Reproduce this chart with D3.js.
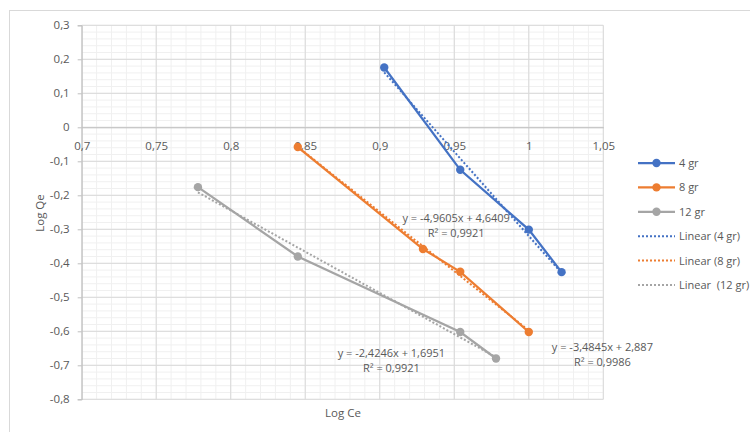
<!DOCTYPE html>
<html><head><meta charset="utf-8">
<script src="https://cdn.jsdelivr.net/npm/d3@7"></script>
<style>body{margin:0;background:#fff}svg{display:block}text{font-family:"Open Sans","Liberation Sans",sans-serif;white-space:pre}</style>
</head><body><svg id="c" width="750" height="432"></svg>
<script>
const seriesNames = ["4 gr", "8 gr", "12 gr"];
const trendNames = ["Linear (4 gr)", "Linear (8 gr)", "Linear  (12 gr)"];
const colors = ["#4472C4", "#ED7D31", "#A5A5A5"];
const x4 = [0.903, 0.954, 1.0, 1.022];
const y4 = [0.176, -0.125, -0.301, -0.426];
const x8 = [0.845, 0.929, 0.954, 1.0];
const y8 = [-0.058, -0.358, -0.425, -0.602];
const x12 = [0.778, 0.845, 0.954, 0.978];
const y12 = [-0.176, -0.38, -0.602, -0.68];
const slopes = [-4.9605, -3.4845, -2.4246];
const intercepts = [4.6409, 2.887, 1.6951];
const eqLabels = ["y = -4,9605x + 4,6409", "y = -3,4845x + 2,887", "y = -2,4246x + 1,6951"];
const r2Labels = ["R² = 0,9921", "R² = 0,9986", "R² = 0,9921"];
const eqPos = [[0.9513, -0.2794], [1.0494, -0.659], [0.9078, -0.6765]];
const xTicks = [0.7, 0.75, 0.8, 0.85, 0.9, 0.95, 1, 1.05];
const yTicks = [0.3, 0.2, 0.1, 0, -0.1, -0.2, -0.3, -0.4, -0.5, -0.6, -0.7, -0.8];

const xs = [x4, x8, x12], ys = [y4, y8, y12];
const svg = d3.select("#c");
const x = d3.scaleLinear().domain([0.7, 1.05]).range([81.7, 603.3]);
const y = d3.scaleLinear().domain([-0.8, 0.3]).range([399.3, 25.3]);
const fmt = v => String(+v.toFixed(2)).replace(".", ",");

svg.append("rect").attr("x", 9.5).attr("y", 10.5).attr("width", 760).attr("height", 440)
  .attr("fill", "none").attr("stroke", "#d9d9d9");

const g = svg.append("g");
g.selectAll(".mx").data(d3.range(0.7, 1.0501, 0.01)).join("line")
  .attr("x1", d => x(d)).attr("x2", d => x(d)).attr("y1", y(0.3)).attr("y2", y(-0.8))
  .attr("stroke", "#f0f0f0").attr("stroke-width", 1);
g.selectAll(".my").data(d3.range(-0.8, 0.3001, 0.02)).join("line")
  .attr("y1", d => y(d)).attr("y2", d => y(d)).attr("x1", x(0.7)).attr("x2", x(1.05))
  .attr("stroke", "#f0f0f0").attr("stroke-width", 1);
g.selectAll(".Mx").data(xTicks).join("line")
  .attr("x1", d => x(d)).attr("x2", d => x(d)).attr("y1", y(0.3)).attr("y2", y(-0.8))
  .attr("stroke", "#d9d9d9");
g.selectAll(".My").data(yTicks).join("line")
  .attr("y1", d => y(d)).attr("y2", d => y(d)).attr("x1", x(0.7)).attr("x2", x(1.05))
  .attr("stroke", "#d9d9d9");

const yAxis = d3.axisLeft(y).tickValues(yTicks).tickFormat(fmt).tickSize(4).tickPadding(8);
const ya = svg.append("g").attr("transform", `translate(${x(0.7)},0)`).call(yAxis);
ya.select(".domain").attr("stroke", "#bfbfbf");
ya.selectAll(".tick line").attr("stroke", "#bfbfbf");
ya.selectAll("text").attr("fill", "#595959").style("font-size", "11.5px");

const xAxis = d3.axisBottom(x).tickValues(xTicks).tickFormat(fmt).tickSize(0).tickPadding(15);
const xa = svg.append("g").attr("transform", `translate(0,${y(0)})`).call(xAxis);
xa.select(".domain").attr("stroke", "#bfbfbf");
xa.selectAll("text").attr("fill", "#595959").style("font-size", "11.5px");

seriesNames.forEach((n, i) => {
  const x0 = d3.min(xs[i]), x1 = d3.max(xs[i]);
  svg.append("line").attr("x1", x(x0)).attr("x2", x(x1))
    .attr("y1", y(slopes[i] * x0 + intercepts[i])).attr("y2", y(slopes[i] * x1 + intercepts[i]))
    .attr("stroke", colors[i]).attr("stroke-width", 2).attr("stroke-dasharray", "2,2");
});
const line = d3.line().x(d => x(d[0])).y(d => y(d[1]));
seriesNames.forEach((n, i) => {
  const pts = xs[i].map((v, j) => [v, ys[i][j]]);
  svg.append("path").attr("d", line(pts)).attr("fill", "none").attr("stroke", colors[i]).attr("stroke-width", 2.25);
  svg.selectAll(null).data(pts).join("circle").attr("cx", d => x(d[0])).attr("cy", d => y(d[1]))
    .attr("r", 4.2).attr("fill", colors[i]);
});

seriesNames.forEach((n, i) => {
  const t = svg.append("text").attr("text-anchor", "middle").attr("fill", "#595959").style("font-size", "11px")
    .attr("x", x(eqPos[i][0])).attr("y", y(eqPos[i][1]));
  t.append("tspan").attr("x", x(eqPos[i][0])).text(eqLabels[i]);
  t.append("tspan").attr("x", x(eqPos[i][0])).attr("dy", 14.5).text(r2Labels[i]);
});

svg.append("text").attr("x", 343).attr("y", 417).attr("text-anchor", "middle").attr("fill", "#595959")
  .style("font-size", "11.5px").text("Log Ce");
svg.append("text").attr("transform", "translate(44,213) rotate(-90)").attr("text-anchor", "middle")
  .attr("fill", "#595959").style("font-size", "11.5px").text("Log Qe");

const leg = svg.append("g");
const ly0 = 163, ldy = 24.4;
seriesNames.forEach((n, i) => {
  const yy = ly0 + i * ldy;
  leg.append("line").attr("x1", 638).attr("x2", 675).attr("y1", yy).attr("y2", yy).attr("stroke", colors[i]).attr("stroke-width", 2.25);
  leg.append("circle").attr("cx", 656.5).attr("cy", yy).attr("r", 4.2).attr("fill", colors[i]);
  leg.append("text").attr("x", 679).attr("y", yy + 4).attr("fill", "#595959").style("font-size", "11px").text(n);
});
trendNames.forEach((n, i) => {
  const yy = ly0 + (i + 3) * ldy;
  leg.append("line").attr("x1", 638).attr("x2", 675).attr("y1", yy).attr("y2", yy).attr("stroke", colors[i])
    .attr("stroke-width", 2).attr("stroke-dasharray", "2,2");
  leg.append("text").attr("x", 679).attr("y", yy + 4).attr("fill", "#595959").style("font-size", "11px").text(n);
});
</script></body></html>
